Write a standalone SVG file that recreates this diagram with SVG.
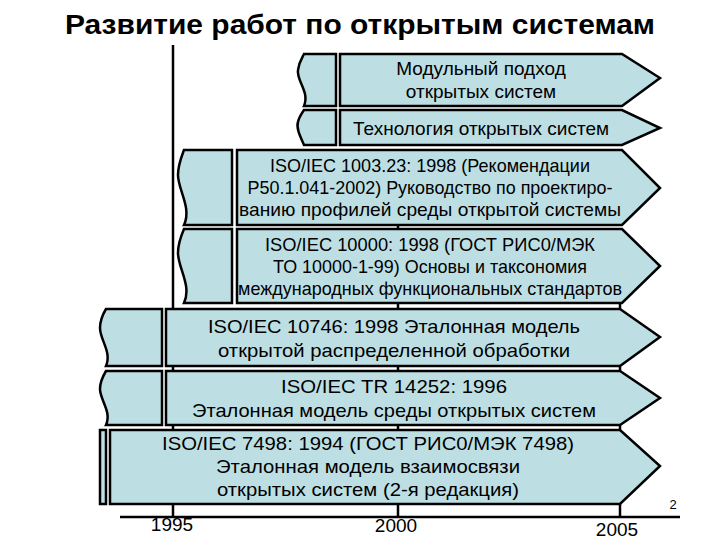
<svg xmlns="http://www.w3.org/2000/svg" width="720" height="540" viewBox="0 0 720 540">
<style>
.s{fill:#bddfe4;stroke:#000;stroke-width:2.5;stroke-linejoin:miter}
.t{font-family:"Liberation Sans",Arial,sans-serif;font-size:19px;text-anchor:middle;fill:#000}
.ax{stroke:#000;stroke-width:2.5;fill:none}
</style>
<rect width="720" height="540" fill="#fff"/>
<text x="360" y="34" textLength="590" lengthAdjust="spacingAndGlyphs" style="font-family:'Liberation Sans',Arial,sans-serif;font-size:27px;font-weight:bold;text-anchor:middle">Развитие работ по открытым системам</text>
<g id="axis">
<line class="ax" x1="173" y1="45" x2="173" y2="517"/>
<line class="ax" x1="398" y1="150" x2="398" y2="517"/>
<line class="ax" x1="620" y1="300" x2="620" y2="517"/>
<line class="ax" x1="120" y1="517" x2="680" y2="517"/>
<text class="t" x="172" y="531" style="font-size:19px">1995</text>
<text class="t" x="396" y="532" style="font-size:19px">2000</text>
<text class="t" x="617" y="536" style="font-size:19px">2005</text>
<text class="t" x="673" y="509" style="font-size:13px">2</text>
</g>
<g id="n1">
<path class="s" d="M304,54 H336 V106 H304 C310,92 296,80 298,70 C299,62 302,58 304,54 Z"/>
<path class="s" d="M340,54 H622 L660,78 L622,106 H340 Z"/>
<text class="t" x="481" y="75">Модульный подход</text>
<text class="t" x="481" y="98">открытых систем</text>
</g>
<g id="n2">
<path class="s" d="M304,110 H336 V145 H304 C300,136 296,128 298,122 C299,117 302,113 304,110 Z"/>
<path class="s" d="M340,110 H622 L660,128 L622,145 H340 Z"/>
<text class="t" x="481" y="135">Технология открытых систем</text>
</g>
<g id="n3">
<path class="s" d="M184,150 H232 V225 H184 C192,208 178,190 178,175 C178,165 181,158 184,150 Z"/>
<path class="s" d="M237,150 H622 L660,188 L622,225 H237 Z"/>
<text class="t" x="430" y="172" textLength="320" lengthAdjust="spacingAndGlyphs">ISO/IEC 1003.23: 1998 (Рекомендации</text>
<text class="t" x="430" y="194" textLength="365" lengthAdjust="spacingAndGlyphs">Р50.1.041-2002) Руководство по проектиро-</text>
<text class="t" x="430" y="216" textLength="382" lengthAdjust="spacingAndGlyphs">ванию профилей среды открытой системы</text>
</g>
<g id="n4">
<path class="s" d="M184,229 H232 V303 H184 C192,286 178,268 178,253 C178,243 181,236 184,229 Z"/>
<path class="s" d="M237,229 H622 L660,266 L622,303 H237 Z"/>
<text class="t" x="430" y="251" textLength="330" lengthAdjust="spacingAndGlyphs">ISO/IEC 10000: 1998 (ГОСТ РИС0/МЭК</text>
<text class="t" x="430" y="273" textLength="314" lengthAdjust="spacingAndGlyphs">ТО 10000-1-99) Основы и таксономия</text>
<text class="t" x="430" y="295" textLength="384" lengthAdjust="spacingAndGlyphs">международных функциональных стандартов</text>
</g>
<g id="n5">
<path class="s" d="M106,309 H162 V366 H106 C112,352 100,340 100,328 C100,320 103,314 106,309 Z"/>
<path class="s" d="M166,309 H620 L660,337 L620,366 H166 Z"/>
<text class="t" x="394" y="333" textLength="372" lengthAdjust="spacingAndGlyphs">ISO/IEC 10746: 1998 Эталонная модель</text>
<text class="t" x="394" y="357" textLength="352" lengthAdjust="spacingAndGlyphs">открытой распределенной обработки</text>
</g>
<g id="n6">
<path class="s" d="M106,371 H162 V425 H106 C112,412 100,400 100,389 C100,381 103,376 106,371 Z"/>
<path class="s" d="M166,371 H620 L660,398 L620,425 H166 Z"/>
<text class="t" x="394" y="393" textLength="226" lengthAdjust="spacingAndGlyphs">ISO/IEC TR 14252: 1996</text>
<text class="t" x="394" y="417" textLength="404" lengthAdjust="spacingAndGlyphs">Эталонная модель среды открытых систем</text>
</g>
<g id="n7">
<path class="s" d="M100,430 H106 V504 H100 Z"/>
<path class="s" d="M110,430 H620 L660,466 L620,504 H110 Z"/>
<text class="t" x="368" y="450" textLength="412" lengthAdjust="spacingAndGlyphs">ISO/IEC 7498: 1994 (ГОСТ РИС0/МЭК 7498)</text>
<text class="t" x="368" y="473" textLength="304" lengthAdjust="spacingAndGlyphs">Эталонная модель взаимосвязи</text>
<text class="t" x="368" y="496" textLength="302" lengthAdjust="spacingAndGlyphs">открытых систем (2-я редакция)</text>
</g>
</svg>
